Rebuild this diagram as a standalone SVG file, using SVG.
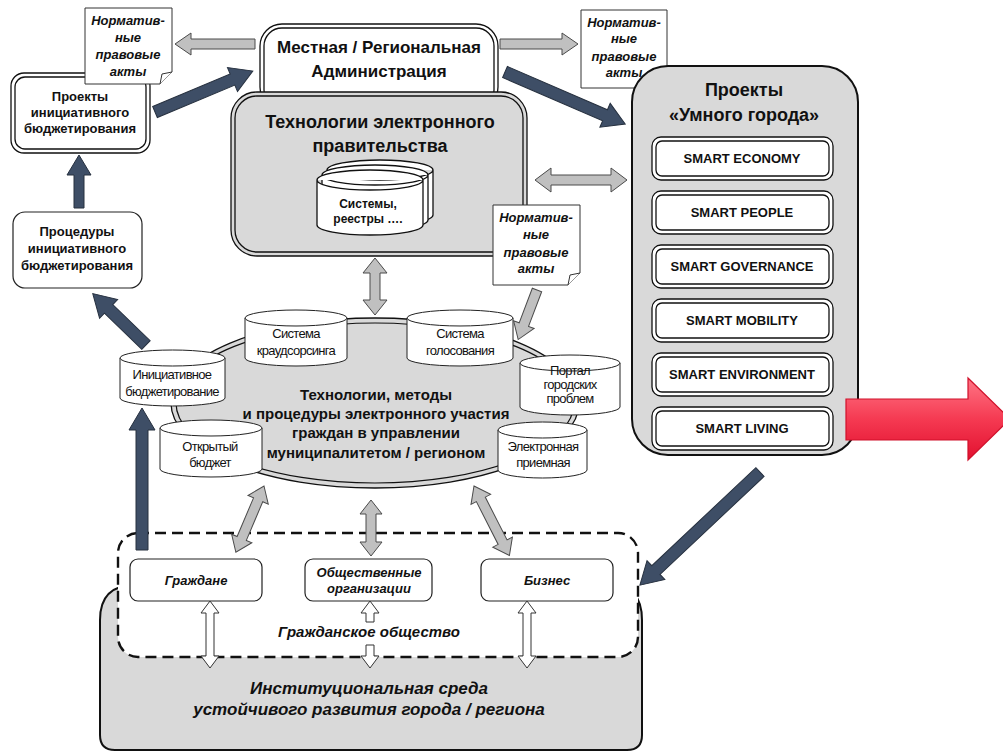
<svg xmlns="http://www.w3.org/2000/svg" width="1003" height="753" viewBox="0 0 1003 753">
<defs>
<style>
.t{font-family:"Liberation Sans",Arial,sans-serif;font-weight:bold;fill:#111;text-anchor:middle}
.it{font-style:italic}
.n{font-family:"Liberation Sans",Arial,sans-serif;font-weight:normal;fill:#111;text-anchor:middle;font-size:13px;letter-spacing:-0.7px}
.dark{fill:#3e4e66;stroke:#26303f;stroke-width:1}
.grey{fill:#c0c0c0;stroke:#4a4a4a;stroke-width:1}
.white{fill:#fff;stroke:#333;stroke-width:1}
.note{fill:#fff;stroke:#333;stroke-width:1}
.cyl{fill:#fff;stroke:#222;stroke-width:1}
</style>
<linearGradient id="red" x1="0" y1="0" x2="0" y2="1">
<stop offset="0" stop-color="#ff7585"/>
<stop offset="0.5" stop-color="#f53a52"/>
<stop offset="1" stop-color="#e2102f"/>
</linearGradient>
</defs>

<!-- Institutional environment -->
<g id="inst-env">
<path d="M100,620 Q100,585 135,585 L610,585 Q642,585 642,620 L642,735 Q642,750 627,750 L115,750 Q100,750 100,735 Z" fill="#d9d9d9" stroke="#111" stroke-width="2"/>
<text class="t it" x="369" y="694" font-size="17">Институциональная среда</text>
<text class="t it" x="369" y="715" font-size="17">устойчивого развития города / региона</text>
</g>

<!-- Civil society dashed -->
<g id="civil-society">
<rect x="118" y="533" width="520" height="124" rx="20" fill="#fff" stroke="#111" stroke-width="2.4" stroke-dasharray="11,6"/>
<text class="t it" x="369" y="637" font-size="15">Гражданское общество</text>
</g>

<!-- Ellipse -->
<g id="eparticipation">
<ellipse cx="375" cy="403" rx="204" ry="85" fill="#d9d9d9" stroke="#111" stroke-width="1.3"/>
<ellipse cx="375" cy="403" rx="199" ry="80" fill="none" stroke="#111" stroke-width="1.2"/>
<text class="t" x="376" y="400" font-size="15">Технологии, методы</text>
<text class="t" x="376" y="419" font-size="15">и процедуры электронного участия</text>
<text class="t" x="376" y="438" font-size="15">граждан в управлении</text>
<text class="t" x="376" y="458" font-size="15">муниципалитетом / регионом</text>
</g>

<g id="cyl-crowd">
<path class="cyl" d="M245,318 A51,8 0 0 1 347,318 L347,358 A51,8 0 0 1 245,358 Z"/>
<path class="cyl" d="M245,318 A51,8 0 0 0 347,318"/>
<text class="n" x="296" y="338">Система</text>
<text class="n" x="296" y="355">краудсорсинга</text>
</g>
<g id="cyl-vote">
<path class="cyl" d="M407,318 A53,8 0 0 1 513,318 L513,358 A53,8 0 0 1 407,358 Z"/>
<path class="cyl" d="M407,318 A53,8 0 0 0 513,318"/>
<text class="n" x="460" y="338">Система</text>
<text class="n" x="460" y="355">голосования</text>
</g>
<g id="cyl-ib">
<path class="cyl" d="M120,358 A52.5,8 0 0 1 225,358 L225,398 A52.5,8 0 0 1 120,398 Z"/>
<path class="cyl" d="M120,358 A52.5,8 0 0 0 225,358"/>
<text class="n" x="172" y="379">Инициативное</text>
<text class="n" x="172" y="396">бюджетирование</text>
</g>
<g id="cyl-portal">
<path class="cyl" d="M520,363 A50,8 0 0 1 620,363 L620,407 A50,8 0 0 1 520,407 Z"/>
<path class="cyl" d="M520,363 A50,8 0 0 0 620,363"/>
<text class="n" x="570" y="375">Портал</text>
<text class="n" x="570" y="389">городских</text>
<text class="n" x="570" y="403">проблем</text>
</g>
<g id="cyl-openbudget">
<path class="cyl" d="M160,428 A51,8 0 0 1 262,428 L262,469 A51,8 0 0 1 160,469 Z"/>
<path class="cyl" d="M160,428 A51,8 0 0 0 262,428"/>
<text class="n" x="210" y="451">Открытый</text>
<text class="n" x="210" y="467">бюджет</text>
</g>
<g id="cyl-reception">
<path class="cyl" d="M498,430 A44.5,8 0 0 1 587,430 L587,470 A44.5,8 0 0 1 498,470 Z"/>
<path class="cyl" d="M498,430 A44.5,8 0 0 0 587,430"/>
<text class="n" x="543" y="451">Электронная</text>
<text class="n" x="543" y="467">приемная</text>
</g>

<!-- Admin -->
<g id="admin">
<rect x="260" y="24" width="238" height="85" rx="22" fill="#fff" stroke="#111" stroke-width="1.3"/>
<rect x="264" y="28" width="230" height="80" rx="18" fill="none" stroke="#111" stroke-width="1.3"/>
<text class="t" x="379" y="53" font-size="17">Местная / Региональная</text>
<text class="t" x="379" y="77" font-size="17">Администрация</text>
</g>

<!-- E-gov -->
<g id="egov">
<rect x="231" y="92" width="296" height="164" rx="26" fill="#d9d9d9" stroke="#111" stroke-width="1.3"/>
<rect x="235" y="96" width="288" height="156" rx="22" fill="none" stroke="#111" stroke-width="1.3"/>
<text class="t" x="380" y="128" font-size="18">Технологии электронного</text>
<text class="t" x="380" y="152" font-size="18">правительства</text>
<path fill="#fff" stroke="#111" stroke-width="1.3" d="M327,170 A53,10 0 0 1 433,170 L433,215 A53,10 0 0 1 327,215 Z M327,170 A53,10 0 0 0 433,170"/>
<path fill="#fff" stroke="#111" stroke-width="1.3" d="M322,175 A53,10 0 0 1 428,175 L428,220 A53,10 0 0 1 322,220 Z M322,175 A53,10 0 0 0 428,175"/>
<path fill="#fff" stroke="#111" stroke-width="1.3" d="M317,180 A53,10 0 0 1 423,180 L423,225 A53,10 0 0 1 317,225 Z M317,180 A53,10 0 0 0 423,180"/>
<text class="t" x="368" y="208" font-size="12">Системы,</text>
<text class="t" x="368" y="223" font-size="12">реестры ….</text>
</g>

<!-- Projects IB -->
<g id="projects-ib">
<rect x="11" y="73" width="139" height="80" rx="13" fill="#fff" stroke="#111" stroke-width="1.3"/>
<rect x="15" y="77" width="131" height="72" rx="10" fill="none" stroke="#111" stroke-width="1.3"/>
<text class="t" x="80" y="101" font-size="13">Проекты</text>
<text class="t" x="80" y="117" font-size="13">инициативного</text>
<text class="t" x="80" y="133" font-size="13">бюджетирования</text>
</g>

<!-- Procedures IB -->
<g id="procedures-ib">
<rect x="13" y="212" width="129" height="76" rx="12" fill="#fff" stroke="#222" stroke-width="1.2"/>
<text class="t" x="77" y="236" font-size="13">Процедуры</text>
<text class="t" x="77" y="253" font-size="13">инициативного</text>
<text class="t" x="77" y="270" font-size="13">бюджетирования</text>
</g>

<!-- Notes -->
<g id="note-left">
<path class="note" d="M85,8 L172,8 L172,72 L160,84 L85,84 Z"/>
<path class="note" d="M160,84 L162,74 L172,72"/>
<text class="t it" x="128" y="25" font-size="13">Норматив-</text>
<text class="t it" x="128" y="42" font-size="13">ные</text>
<text class="t it" x="128" y="59" font-size="13">правовые</text>
<text class="t it" x="128" y="76" font-size="13">акты</text>
</g>
<g id="note-right">
<path class="note" d="M581,10 L667,10 L667,76 L655,88 L581,88 Z"/>
<path class="note" d="M655,88 L657,78 L667,76"/>
<text class="t it" x="624" y="27" font-size="13">Норматив-</text>
<text class="t it" x="624" y="43" font-size="13">ные</text>
<text class="t it" x="624" y="61" font-size="13">правовые</text>
<text class="t it" x="624" y="77" font-size="13">акты</text>
</g>
<g id="note-lower">
<path class="note" d="M493,205 L580,205 L580,273 L568,285 L493,285 Z"/>
<path class="note" d="M568,285 L570,275 L580,273"/>
<text class="t it" x="536" y="222" font-size="13">Норматив-</text>
<text class="t it" x="536" y="239" font-size="13">ные</text>
<text class="t it" x="536" y="257" font-size="13">правовые</text>
<text class="t it" x="536" y="273" font-size="13">акты</text>
</g>

<!-- Smart city -->
<g id="smart-city">
<rect x="632" y="66" width="226" height="389" rx="36" fill="#d9d9d9" stroke="#111" stroke-width="2"/>
<text class="t" x="744" y="96" font-size="18">Проекты</text>
<text class="t" x="744" y="121" font-size="18">«Умного города»</text>
</g>
<g id="smart-economy"><rect x="652" y="137" width="181" height="43" rx="9" fill="#fff" stroke="#111" stroke-width="1.3"/><rect x="656" y="141" width="173" height="35" rx="6" fill="none" stroke="#111" stroke-width="1.3"/><text class="t" x="742" y="163" font-size="13">SMART ECONOMY</text></g>
<g id="smart-people"><rect x="652" y="191" width="181" height="43" rx="9" fill="#fff" stroke="#111" stroke-width="1.3"/><rect x="656" y="195" width="173" height="35" rx="6" fill="none" stroke="#111" stroke-width="1.3"/><text class="t" x="742" y="217" font-size="13">SMART PEOPLE</text></g>
<g id="smart-governance"><rect x="652" y="245" width="181" height="43" rx="9" fill="#fff" stroke="#111" stroke-width="1.3"/><rect x="656" y="249" width="173" height="35" rx="6" fill="none" stroke="#111" stroke-width="1.3"/><text class="t" x="742" y="271" font-size="13">SMART GOVERNANCE</text></g>
<g id="smart-mobility"><rect x="652" y="299" width="181" height="43" rx="9" fill="#fff" stroke="#111" stroke-width="1.3"/><rect x="656" y="303" width="173" height="35" rx="6" fill="none" stroke="#111" stroke-width="1.3"/><text class="t" x="742" y="325" font-size="13">SMART MOBILITY</text></g>
<g id="smart-environment"><rect x="652" y="353" width="181" height="43" rx="9" fill="#fff" stroke="#111" stroke-width="1.3"/><rect x="656" y="357" width="173" height="35" rx="6" fill="none" stroke="#111" stroke-width="1.3"/><text class="t" x="742" y="379" font-size="13">SMART ENVIRONMENT</text></g>
<g id="smart-living"><rect x="652" y="407" width="181" height="43" rx="9" fill="#fff" stroke="#111" stroke-width="1.3"/><rect x="656" y="411" width="173" height="35" rx="6" fill="none" stroke="#111" stroke-width="1.3"/><text class="t" x="742" y="433" font-size="13">SMART LIVING</text></g>

<!-- Bottom actors -->
<g id="citizens"><rect x="130" y="559" width="132" height="42" rx="8" fill="#fff" stroke="#222" stroke-width="1.2"/><text class="t it" x="196" y="585" font-size="13">Граждане</text></g>
<g id="ngo"><rect x="305" y="559" width="127" height="42" rx="8" fill="#fff" stroke="#222" stroke-width="1.2"/><text class="t it" x="369" y="577" font-size="13">Общественные</text><text class="t it" x="369" y="593" font-size="13">организации</text></g>
<g id="business"><rect x="481" y="559" width="132" height="42" rx="8" fill="#fff" stroke="#222" stroke-width="1.2"/><text class="t it" x="547" y="585" font-size="13">Бизнес</text></g>

<!-- Connectors -->
<g id="connectors">
<polygon class="dark" transform="translate(155,112) rotate(-22.7)" points="0,-6 84,-6 84,-13 106,0 84,13 84,6 0,6"/>
<polygon class="dark" transform="translate(505,72) rotate(23.4)" points="0,-6 109,-6 109,-13 131,0 109,13 109,6 0,6"/>
<polygon class="dark" transform="translate(79,208) rotate(-90)" points="0,-5 33,-5 33,-12 53,0 33,12 33,5 0,5"/>
<polygon class="dark" transform="translate(146,345) rotate(-136)" points="0,-6 52,-6 52,-13 74,0 52,13 52,6 0,6"/>
<polygon class="dark" transform="translate(142,550) rotate(-90)" points="0,-6 120,-6 120,-13 142,0 120,13 120,6 0,6"/>
<polygon class="dark" transform="translate(760,472) rotate(136.7)" points="0,-6 143,-6 143,-13 165,0 143,13 143,6 0,6"/>
<polygon class="grey" transform="translate(255,44) rotate(180)" points="0,-5 64,-5 64,-11 80,0 64,11 64,5 0,5"/>
<polygon class="grey" transform="translate(500,44)" points="0,-5 62,-5 62,-11 78,0 62,11 62,5 0,5"/>
<polygon class="grey" transform="translate(537,290) rotate(110.8)" points="0,-5 37,-5 37,-11 53,0 37,11 37,5 0,5"/>
<polygon class="grey" transform="translate(535,180)" points="0,0 16,-12 16,-5 76,-5 76,-12 92,0 76,12 76,5 16,5 16,12"/>
<polygon class="grey" transform="translate(375,258) rotate(90)" points="0,0 15,-12 15,-5 42,-5 42,-12 57,0 42,12 42,5 15,5 15,12"/>
<polygon class="grey" transform="translate(264,486) rotate(113)" points="0,0 15,-11 15,-5 57,-5 57,-11 72,0 57,11 57,5 15,5 15,11"/>
<polygon class="grey" transform="translate(371,500) rotate(90)" points="0,0 14,-11 14,-5 42,-5 42,-11 56,0 42,11 42,5 14,5 14,11"/>
<polygon class="grey" transform="translate(474,486) rotate(63)" points="0,0 15,-11 15,-5 63,-5 63,-11 78,0 63,11 63,5 15,5 15,11"/>
<polygon class="white" transform="translate(210,601) rotate(90)" points="0,0 12,-9 12,-4 55,-4 55,-9 67,0 55,9 55,4 12,4 12,9"/>
<polygon class="white" transform="translate(527,601) rotate(90)" points="0,0 12,-9 12,-4 55,-4 55,-9 67,0 55,9 55,4 12,4 12,9"/>
<polygon class="white" points="370,601 379,613 374,613 374,622 366,622 366,613 361,613"/>
<polygon class="white" points="370,668 379,656 374,656 374,645 366,645 366,656 361,656"/>
</g>

<!-- Red arrow -->
<g id="red-arrow">
<polygon points="846,399 968,399 968,378 1010,419 968,460 968,440 846,440" fill="url(#red)" stroke="#d0102a" stroke-width="1.2"/>
</g>
</svg>
